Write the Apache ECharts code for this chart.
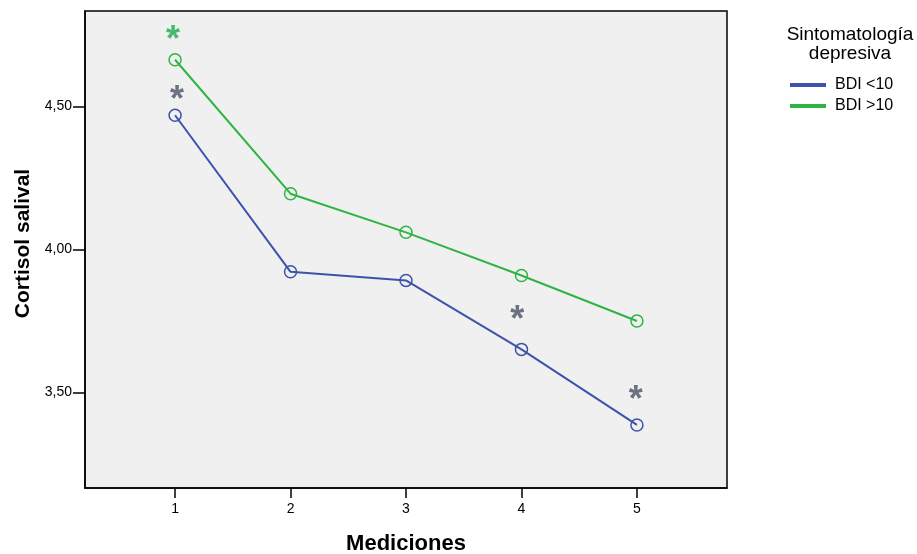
<!DOCTYPE html>
<html>
<head>
<meta charset="utf-8">
<script src="https://cdn.jsdelivr.net/npm/echarts@6/dist/echarts.min.js"></script>
<style>
  html, body { margin: 0; padding: 0; background: #fff; }
  #chart { width: 917px; height: 554px; }
</style>
</head>
<body>
<div id="chart"></div>
<script>
// Mediciones (1..5) and mean salivary cortisol per group
const mediciones = [1, 2, 3, 4, 5];
const bdiBajo = [4.469, 3.922, 3.892, 3.651, 3.387];   // BDI <10
const bdiAlto = [4.663, 4.195, 4.060, 3.909, 3.750];   // BDI >10
const yTicks = [3.5, 4.0, 4.5];

// Significance markers (*) per group: [medición, nivel]
const sigBajo = [[1.017, 4.546], [3.964, 3.777], [4.99, 3.498]];
const sigAlto = [[0.983, 4.757]];

const FONT = '"Liberation Sans", Arial, sans-serif';
const BLUE = '#3d53a9';
const GREEN = '#2fb444';

const pair = (xs, ys) => xs.map((x, i) => [x, ys[i]]);

const chart = echarts.init(document.getElementById('chart'));

function lineSeries(name, values, color) {
  return {
    name: name,
    type: 'line',
    data: pair(mediciones, values),
    symbol: 'circle',
    symbolSize: 12,
    showAllSymbol: true,
    lineStyle: { color: color, width: 2 },
    itemStyle: { color: 'rgba(0,0,0,0)', borderColor: color, borderWidth: 1.5 },
    emphasis: { disabled: true },
    z: 3
  };
}

function starSeries(points, color) {
  return {
    type: 'scatter',
    data: points,
    symbol: 'circle',
    symbolSize: 0,
    silent: true,
    label: {
      show: true,
      formatter: '*',
      position: 'inside',
      color: color,
      fontFamily: FONT,
      fontWeight: 'bold',
      fontSize: 36,
      offset: [0, 8]
    },
    z: 4
  };
}

chart.setOption({
  animation: false,
  textStyle: { fontFamily: FONT },
  grid: {
    left: 85, right: 190, top: 11, bottom: 66,
    outerBoundsMode: 'none',
    containLabel: false,
    show: true,
    backgroundColor: '#f0f0f0',
    borderColor: '#000',
    borderWidth: 1.5
  },
  title: {
    text: 'Sintomatología\ndepresiva',
    left: 845, top: 20,
    textAlign: 'center',
    textStyle: {
      fontFamily: FONT, fontSize: 19, fontWeight: 'normal',
      color: '#000', lineHeight: 19, align: 'center'
    }
  },
  legend: {
    orient: 'vertical',
    left: 785, top: 72,
    itemWidth: 34, itemHeight: 2,
    itemGap: 5,
    icon: 'rect',
    data: [
      { name: 'BDI <10', itemStyle: { color: BLUE } },
      { name: 'BDI >10', itemStyle: { color: GREEN } }
    ],
    textStyle: { fontFamily: FONT, fontSize: 16, color: '#000', lineHeight: 16, padding: [0, 0, 0, 5] }
  },
  xAxis: {
    type: 'value',
    min: 0.22, max: 5.78,
    name: 'Mediciones',
    nameLocation: 'middle',
    nameGap: 45,
    nameTextStyle: { fontFamily: FONT, fontSize: 22, fontWeight: 'bold', color: '#000' },
    axisLine: { show: true, onZero: false, lineStyle: { color: '#000', width: 1.5 } },
    axisTick: { show: true, length: 10, customValues: mediciones, lineStyle: { color: '#000', width: 1.5 } },
    axisLabel: { customValues: mediciones, fontSize: 14, color: '#000', margin: 14, fontFamily: FONT },
    splitLine: { show: false }
  },
  yAxis: {
    type: 'value',
    min: 3.1667, max: 4.8333,
    name: 'Cortisol salival',
    nameLocation: 'middle',
    nameRotate: 90,
    nameGap: 51,
    nameTextStyle: {
      fontFamily: FONT, fontSize: 21, fontWeight: 'bold', color: '#000',
      padding: [0, 0, 0, 12]
    },
    axisLine: { show: true, lineStyle: { color: '#000', width: 1.5 } },
    axisTick: { show: true, length: 12, customValues: yTicks, lineStyle: { color: '#000', width: 1.5 } },
    axisLabel: {
      customValues: yTicks, fontSize: 14, color: '#000', margin: 13, fontFamily: FONT,
      formatter: v => v.toFixed(2).replace('.', ',')
    },
    splitLine: { show: false }
  },
  series: [
    lineSeries('BDI <10', bdiBajo, BLUE),
    lineSeries('BDI >10', bdiAlto, GREEN),
    starSeries(sigBajo, '#4a5366'),
    starSeries(sigAlto, '#1cae4f')
  ]
});
</script>
</body>
</html>
